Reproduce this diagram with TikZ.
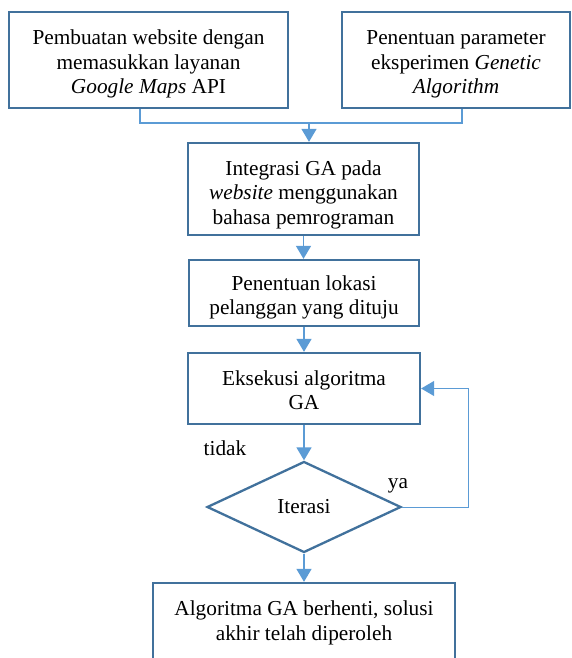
\documentclass[tikz,border=0pt]{standalone}
\usepackage{fontspec}
\setmainfont{Liberation Serif}
\usetikzlibrary{arrows.meta,shapes.geometric,calc}
\definecolor{cbox}{RGB}{65,113,156}
\definecolor{carr}{RGB}{91,155,213}
\newcommand\dropby[1]{\rule{0pt}{#1}}

\begin{document}
\begin{tikzpicture}[x=1pt,y=-1pt,
  font=\fontsize{21.3}{24.5}\selectfont,
  box/.style={draw=cbox,line width=2.3pt,align=center,inner sep=0pt},
  link/.style={draw=carr,line width=1.4pt},
  flow/.style={link,-{Triangle[width=15pt,length=13pt]}}]
\useasboundingbox (0,0) rectangle (571,658);
\node[box,minimum width=279pt,minimum height=96pt] (web) at (148.5,60) {\dropby{23pt}Pembuatan website dengan\\memasukkan layanan\\\textit{Google Maps} API};
\node[box,minimum width=228pt,minimum height=96pt] (par) at (456,60) {\dropby{23pt}Penentuan parameter\\eksperimen \textit{Genetic}\\\textit{Algorithm}};
\node[box,minimum width=231pt,minimum height=92pt] (ga) at (303.5,189) {\dropby{26pt}Integrasi GA pada\\\textit{website} menggunakan\\bahasa pemrograman};
\node[box,minimum width=230pt,minimum height=66pt] (lok) at (304,293) {\dropby{24pt}Penentuan lokasi\\pelanggan yang dituju};
\node[box,minimum width=232pt,minimum height=71pt] (eks) at (304,388.5) {\dropby{18pt}Eksekusi algoritma\\GA};
\node[box,diamond,minimum width=194pt,minimum height=91pt] (itr) at (304,507) {Iterasi};
\node[box,minimum width=302pt,minimum height=80pt] (stop) at (304,623) {Algoritma GA berhenti, solusi\\akhir telah diperoleh};
\node (tidak) at (225,448) {tidak};
\node (ya) at (398,486) {ya};
% connectors
\coordinate (join) at (309,123);
\draw[link] ([xshift=-8.5pt]web.south) |- (join);
\draw[link] ([xshift=6pt]par.south) |- (join);
\draw[flow] (join) -- (join |- ga.north);
\draw[flow] (ga.south) -- (ga.south |- lok.north);
\draw[flow] (lok.south) -- (lok.south |- eks.north);
\draw[flow] (eks.south) -- (itr.north);
\draw[flow] (itr.south) -- (stop.north);
\draw[flow,line width=1pt] (itr.east) -- ++(66pt,0) |- (eks.east);
\end{tikzpicture}
\end{document}
